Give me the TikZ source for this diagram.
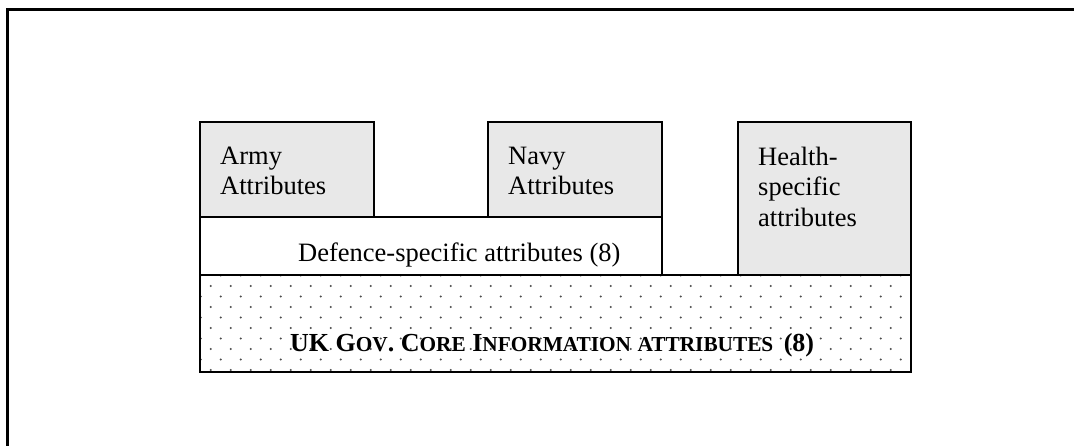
\documentclass[tikz,border=0pt]{standalone}
\usepackage{fontspec}
\setmainfont{Liberation Serif}
\definecolor{boxgray}{HTML}{E8E8E8}
\definecolor{dotgray}{HTML}{4A4A4A}
% reduced capitals for the faked small-caps heading
\newcommand\minicaps[1]{{\fontsize{21.3}{24}\selectfont #1}}
\begin{document}
\begin{tikzpicture}[x=1pt,y=-1pt,
  box/.style={draw=black,line width=1.8pt,rectangle,inner sep=0pt,anchor=north west},
  tinted/.style={box,fill=boxgray},
  plain/.style={box,fill=white},
  label/.style={inner sep=0pt,align=left,font=\fontsize{26.5}{30.5}\selectfont},
]
\useasboundingbox (0,0) rectangle (1074,446);

% outer frame (only its top and left sides fall inside the page)
\coordinate (frameBL) at (7.5,446);
\coordinate (frameTR) at (1074,9.5);
\draw[line width=2.2pt] (frameBL) |- (frameTR);

% upper row of attribute boxes
\node[tinted,minimum width=174pt,minimum height=95pt] (army) at (199,121) {};
\node[tinted,minimum width=174pt,minimum height=95pt] (navy) at (487,121) {};
\node[tinted,minimum width=173pt,minimum height=153pt] (health) at (737,121) {};
\node[plain,minimum width=462pt,minimum height=58pt] (defence) at (199,216) {};

% core band with a staggered dot fill
\node[plain,minimum width=711pt,minimum height=97pt] (core) at (199,274) {};
\foreach \j in {0,...,9}{
  \foreach \k in {0,...,70}{
    \pgfmathtruncatemacro{\odd}{mod(\j+\k,2)}
    \ifnum\odd=0
      \fill[dotgray] (200.7+10*\k,275.5+10.5*\j) circle (1.1pt);
    \fi
  }
}
\node[box,draw=black,fill=none,minimum width=711pt,minimum height=97pt] (coreframe) at (199,274) {};

% labels
\node[label,anchor=north west] (armytext) at (220,146.5) {Army\\Attributes};
\node[label,anchor=north west] (navytext) at (508,146.5) {Navy\\Attributes};
\node[label,anchor=north west] (healthtext) at (758,146.5) {Health-\\specific\\attributes};
\node[label,anchor=base west] (defencetext) at (298,262) {Defence-specific attributes (8)};
\node[inner sep=0pt,anchor=base west,font=\bfseries\fontsize{26}{30}\selectfont] (coretext) at (290,352)
  {UK G\minicaps{OV}. C\minicaps{ORE} I\minicaps{NFORMATION} \minicaps{ATTRIBUTES}\hspace{0.4em}(8)};
\end{tikzpicture}
\end{document}
